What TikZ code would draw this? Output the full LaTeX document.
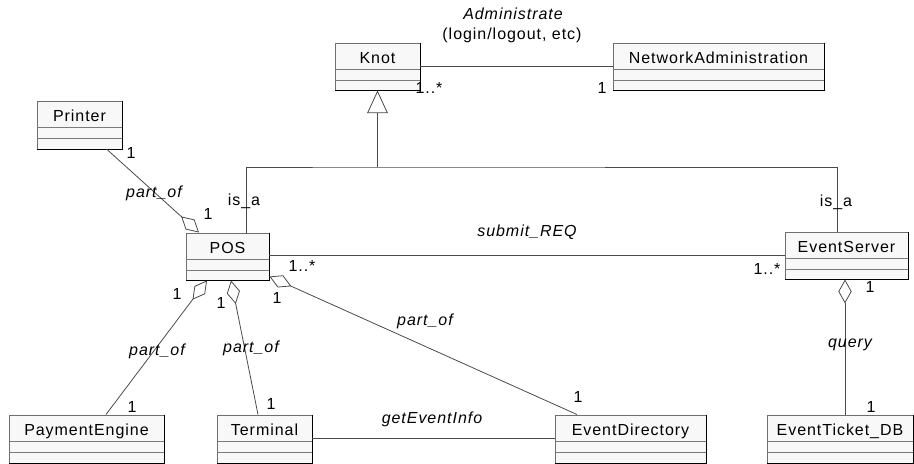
\documentclass[tikz,border=0pt]{standalone}
\usepackage{fontspec}
\setmainfont{Liberation Sans}[LetterSpace=6]
\usetikzlibrary{arrows.meta,calc,fit}

\definecolor{boxfill}{HTML}{F8F8F8}
\definecolor{boxedge}{HTML}{6E6E6E}
\definecolor{compcol}{HTML}{7A7A7A}
\definecolor{linecol}{HTML}{4A4A4A}

\tikzset{
  classbox/.style={draw=boxedge, fill=boxfill, line width=0.7pt, inner sep=0pt},
  compline/.style={draw=compcol, line width=0.7pt},
  boxshadow/.style={draw=black, line width=1.3pt},
  cname/.style={font=\fontsize{12}{14}\selectfont, inner sep=0pt, anchor=base},
  mult/.style={font=\fontsize{12}{14}\selectfont, inner sep=0pt, text height=8.5pt, text depth=0pt},
  role/.style={mult, font=\fontsize{12}{14}\selectfont\itshape},
  assoc/.style={draw=linecol, line width=0.6pt},
  aggr/.style={assoc, {Diamond[open, length=18pt, width=10pt, fill=white]}-},
  gen/.style={assoc, -{Triangle[open, length=17pt, width=15.5pt, fill=white]}},
}

% class box: name, x1, y1, x2, y2, class name
\newcommand\umlclass[6]{%
  \node[classbox, fit={(#2,#3)(#4,#5)}] (#1) {};
  \draw[compline] (#2,#3+26.5) -- (#4,#3+26.5) (#2,#3+37.5) -- (#4,#3+37.5);
  \node[cname] at ({(#2+#4)/2},#3+20.5) {#6};
  \draw[boxshadow] (#1.north east) -- (#1.south east) -- (#1.south west);
}

\begin{document}
\begin{tikzpicture}[x=0.75pt, y=-0.75pt]
\useasboundingbox (0,0) rectangle (914,464);

% classes
\umlclass{knot}{335}{43}{420}{90}{Knot}
\umlclass{na}{613}{43}{824}{90}{NetworkAdministration}
\umlclass{printer}{37}{101}{122}{149}{Printer}
\umlclass{pos}{186}{233}{269}{280}{POS}
\umlclass{es}{785}{232}{908}{279}{EventServer}
\umlclass{pe}{9}{415}{164}{463}{PaymentEngine}
\umlclass{term}{217}{415}{312}{463}{Terminal}
\umlclass{ed}{555}{415}{706}{463}{EventDirectory}
\umlclass{etdb}{767}{415}{913}{463}{EventTicket\_DB}

% Knot -- NetworkAdministration
\draw[assoc] ($(knot.north east)+(0,24)$) coordinate (ka) -- (ka -| na.west);
\node[role] at (513,14) {Administrate};
\node[mult] at (512,34) {(login/logout, etc)};
\node[mult] at (429,88) {1..*};
\node[mult] at (602,88) {1};

% generalisation tree
\coordinate (gj) at (377.5,167);
\draw[gen] (gj) -- (knot.south);
\draw[assoc] ($(pos.north)+(18.5,0)$) |- (gj) -| ($(es.north)+(-9.5,0)$);
\node[mult] at (244,200) {is\_a};
\node[mult] at (836,201) {is\_a};

% POS -- EventServer
\draw[assoc] ($(pos.north east)+(0,23)$) coordinate (ps) -- (ps -| es.west);
\node[role] at (527,231) {submit\_REQ};
\node[mult] at (302,266) {1..*};
\node[mult] at (767,269) {1..*};

% EventServer -- EventTicket_DB
\draw[aggr] ($(es.south)+(-1.5,0)$) coordinate (eq) -- (eq |- etdb.north);
\node[mult] at (870,287) {1};
\node[role] at (850,342) {query};
\node[mult] at (871,407) {1};

% Printer -- POS
\draw[aggr] ($(pos.north)+(-28.5,0)$) -- ($(printer.south)+(27.5,0)$);
\node[mult] at (131,153) {1};
\node[role] at (154,192) {part\_of};
\node[mult] at (208,214) {1};

% POS -- PaymentEngine
\draw[aggr] ($(pos.south)+(-20.5,0)$) -- ($(pe.north)+(19.5,0)$);
\node[mult] at (177,294) {1};
\node[role] at (157,350) {part\_of};
\node[mult] at (132,407) {1};

% POS -- Terminal
\draw[aggr] ($(pos.south)+(3.5,0)$) -- ($(term.north)+(-6.5,0)$);
\node[mult] at (221,303) {1};
\node[role] at (251,347) {part\_of};
\node[mult] at (271,404) {1};

% POS -- EventDirectory
\draw[aggr] ($(pos.south east)+(0,-4)$) -- ($(ed.north)+(-53.5,0)$);
\node[mult] at (277,298) {1};
\node[role] at (425,320) {part\_of};
\node[mult] at (578,397) {1};

% Terminal -- EventDirectory
\draw[assoc] ($(term.north east)+(0,24)$) coordinate (tg) -- (tg -| ed.west);
\node[role] at (432,418) {getEventInfo};
\end{tikzpicture}
\end{document}
